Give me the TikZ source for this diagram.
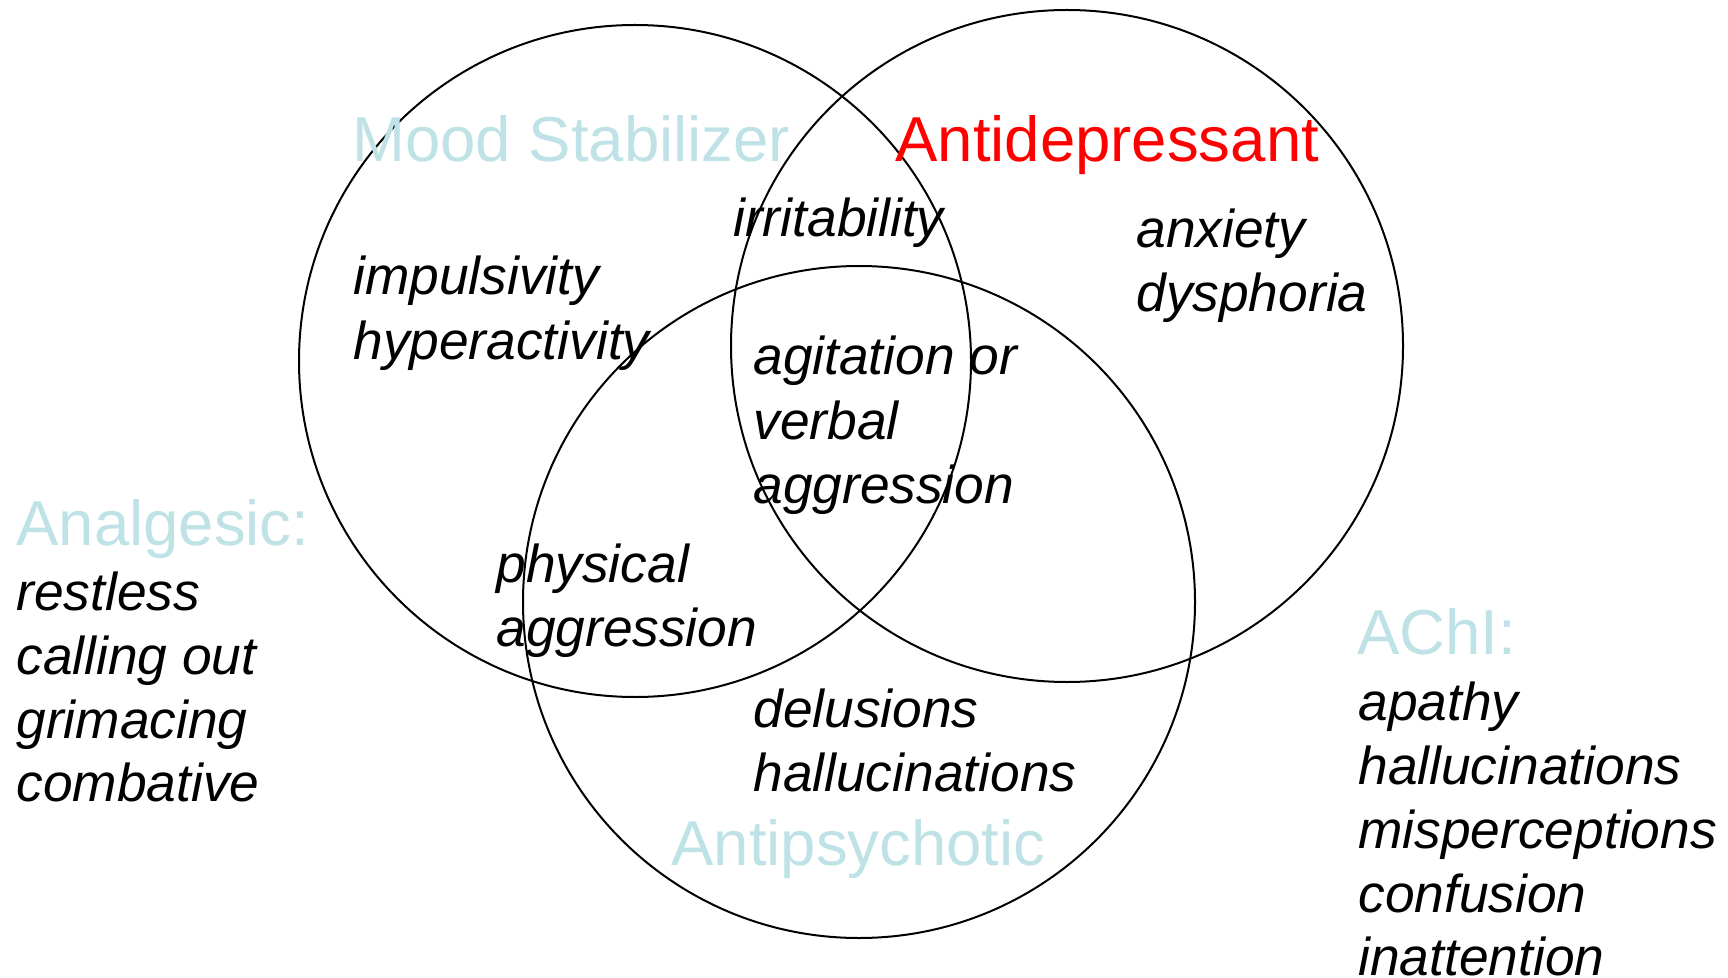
\documentclass[tikz,border=0pt]{standalone}
\usepackage{fontspec}
\setmainfont{Liberation Sans}
\usepackage{tikz}
\usetikzlibrary{positioning}
\definecolor{paleblue}{RGB}{190,226,230}
\tikzset{venn/.style={circle,draw=black,line width=1pt,minimum size=336pt,inner sep=0pt},
		group/.style={anchor=base west,inner sep=0pt,font=\fontsize{31.75}{38}\selectfont},
		symptom/.style={anchor=base west,inner sep=0pt,font=\fontsize{26.65}{32}\selectfont\itshape}}

\begin{document}
\begin{tikzpicture}[x=0.5pt,y=-0.5pt]
		\useasboundingbox (0,0) rectangle (1728,978);
		\node[venn] (mood-circle) at (635,361) {};
		\node[venn] (antidep-circle) at (1067,346) {};
		\node[venn] (antipsy-circle) at (859,602) {};
		
		\node[group,text=paleblue] (mood-label) at (352,162) {Mood Stabilizer};
		\node[group,text=red] (antidep-label) at (895,162) {Antidepressant};
		\node[group,text=paleblue] (antipsy-label) at (671,865) {Antipsychotic};
		
		\node[symptom] (irritability) at (733,237) {irritability};
		\node[symptom] (anxiety) at (1136,248) {anxiety};
		\node[symptom] (dysphoria) at (1136,312) {dysphoria};
		\node[symptom] (impulsivity) at (353,295) {impulsivity};
		\node[symptom] (hyperactivity) at (353,359) {hyperactivity};
		\node[symptom] (agitation) at (753,375) {agitation or};
		\node[symptom] (verbal) at (753,439) {verbal};
		\node[symptom] (verbal-aggression) at (753,503) {aggression};
		\node[symptom] (physical) at (496,582) {physical};
		\node[symptom] (physical-aggression) at (496,646) {aggression};
		\node[symptom] (delusions) at (753,727) {delusions};
		\node[symptom] (hallucinations) at (753,791) {hallucinations};
		
		% outside the circles
		\node[group,text=paleblue] (analgesic-label) at (16,545) {Analgesic:};
		\node[symptom] (restless) at (16,610) {restless};
		\node[symptom] (calling-out) at (16,674) {calling out};
		\node[symptom] (grimacing) at (16,738) {grimacing};
		\node[symptom] (combative) at (16,801) {combative};
		
		\node[group,text=paleblue] (achi-label) at (1357,654) {AChI:};
		\node[symptom] (apathy) at (1358,720) {apathy};
		\node[symptom] (achi-hallucinations) at (1358,784) {hallucinations};
		\node[symptom] (misperceptions) at (1358,848) {misperceptions};
		\node[symptom] (confusion) at (1358,912) {confusion};
		\node[symptom] (inattention) at (1358,975) {inattention};
	\end{tikzpicture}
\end{document}
